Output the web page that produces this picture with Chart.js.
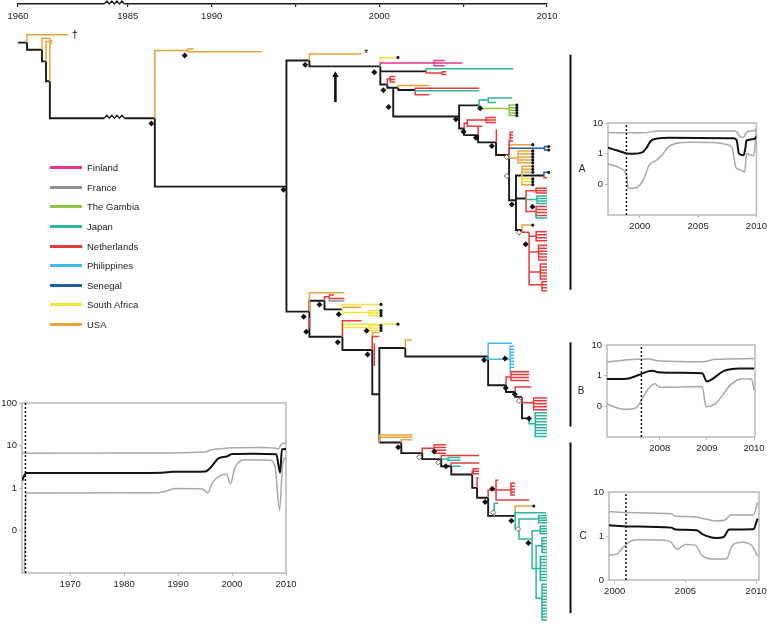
<!DOCTYPE html>
<html>
<head>
<meta charset="utf-8">
<script src="https://cdn.jsdelivr.net/npm/chart.js@4.4.1/dist/chart.umd.min.js"></script>
<style>
  body { margin: 0; background: #fff; }
  #wrap { position: relative; width: 767px; height: 628px; overflow: hidden; font-family: "Liberation Sans", Arial, sans-serif; }
  canvas { position: absolute; }
  #legend { position: absolute; left: 50px; top: 158px; margin: 0; padding: 0; list-style: none; font-size: 9.5px; color: #222; }
  #legend li { height: 19.6px; display: flex; align-items: center; }
  #legend .sw { display: inline-block; width: 32px; height: 3px; margin-right: 5px; }
</style>
</head>
<body>
<div id="wrap">
  <canvas id="tree" width="767" height="628" style="left:0;top:0"></canvas>
  <canvas id="axisTop" width="767" height="24" style="left:0;top:0"></canvas>
  <canvas id="skyAll" width="300" height="200" style="left:0;top:395px"></canvas>
  <canvas id="skyA" width="195" height="120" style="left:575px;top:115px"></canvas>
  <canvas id="skyB" width="195" height="120" style="left:575px;top:337px"></canvas>
  <canvas id="skyC" width="197" height="118" style="left:575px;top:484px"></canvas>
  <ul id="legend"></ul>
</div>
<script>
// Figure: dated tree of isolates + skyline plots
const FONT = '"Liberation Sans", Arial, sans-serif';

const countries = ['Finland', 'France', 'The Gambia', 'Japan', 'Netherlands', 'Philippines', 'Senegal', 'South Africa', 'USA'];
const countryCodes = ['FI', 'FR', 'GM', 'JP', 'NL', 'PH', 'SN', 'ZA', 'US'];
const countryColors = ['#e4348b', '#8f8f8f', '#8cc540', '#2db59c', '#e63b3c', '#45bae8', '#1e5ea8', '#f0e43a', '#e9a23b'];
const internalColor = '#1a1a1a';

// top time axis (broken between the 1960s and 1985)
const topAxisYears = [1960, 1985, 1990, 1995, 2000, 2005, 2010];
const topAxisLabels = ['1960', '1985', '1990', '', '2000', '', '2010'];
const axisGap = 18.45;              // years cut out by the axis break
const breakSpan = [1983.6, 1984.8]; // where the zigzag sits (real years after the gap)
const toAxis = yr => (yr < 1975 ? yr : yr - axisGap);

// tree branches: [parent year, parent pos, child year, child pos, country, tip dot]
const trunkBranches = [
  [1960.0, 14.7, 1960.54, 14.7, 'k'],
  [1960.54, 14.7, 1962.98, 6.7, 'US'],
  [1960.54, 14.7, 1961.43, 22, 'k'],
  [1961.43, 22, 1961.9, 10.3, 'US'],
  [1961.9, 10.3, 1962.05, 12.5, 'US'],
  [1961.43, 22, 1961.67, 33.7, 'k'],
  [1961.67, 33.7, 1962.0, 13.5, 'US'],
  [1961.67, 33.7, 1961.9, 53.7, 'k'],
  [1961.9, 53.7, 1962.05, 15.3, 'US'],
  [1961.9, 53.7, 1986.61, 91, 'k'],
  [1986.61, 91, 1988.57, 22.7, 'US'],
  [1988.57, 22.7, 1988.93, 21.3, 'US'],
  [1988.57, 22.7, 1992.98, 24, 'US'],
  [1986.61, 91, 1994.46, 160, 'k'],
  [1994.46, 160, 1995.83, 32.7, 'k'],
  [1994.46, 160, 1995.83, 286, 'k']
];

const upperCladeBranches = [
  [1995.83, 32.7, 1998.93, 26.3, 'US'],
  [1995.83, 32.7, 2000.06, 38.7, 'k'],
  [2000.06, 38.7, 2001.01, 29.7, 'ZA', 1],
  [2000.06, 38.7, 2003.27, 35.3, 'FI'],
  [2003.27, 35.3, 2004.94, 35.3, 'FI'],
  [2000.06, 38.7, 2002.8, 43.7, 'k'],
  [2002.8, 43.7, 2007.98, 41, 'JP'],
  [2002.8, 43.7, 2003.75, 45.3, 'NL'],
  [2000.06, 38.7, 2000.48, 57, 'k'],
  [2000.48, 57, 2000.65, 51.5, 'NL'],
  [2000.48, 57, 2000.83, 60.3, 'k'],
  [2000.83, 60.3, 2001.13, 60.3, 'k'],
  [2001.13, 60.3, 2002.98, 58, 'US'],
  [2001.13, 60.3, 2002.14, 62.5, 'k'],
  [2002.14, 62.5, 2005.95, 60.7, 'NL'],
  [2002.14, 62.5, 2005.95, 63.3, 'JP'],
  [2002.14, 62.5, 2002.98, 67.3, 'NL'],
  [2000.83, 60.3, 2004.76, 89.3, 'k'],
  [2004.76, 89.3, 2005.95, 78, 'k'],
  [2005.95, 78, 2006.5, 72.7, 'JP'],
  [2006.5, 72.7, 2007.92, 70.7, 'JP'],
  [2006.5, 72.7, 2006.96, 75, 'JP'],
  [2005.95, 78, 2007.74, 81.3, 'GM'],
  [2004.76, 89.3, 2005.06, 101.3, 'k'],
  [2005.06, 101.3, 2005.24, 96, 'NL'],
  [2005.24, 96, 2006.37, 92.7, 'NL'],
  [2005.24, 96, 2006.13, 99, 'NL'],
  [2005.06, 101.3, 2005.89, 108, 'k'],
  [2005.89, 108, 2005.95, 100.5, 'NL'],
  [2005.89, 108, 2006.96, 115.3, 'k'],
  [2006.96, 115.3, 2007.0, 102, 'NL'],
  [2006.96, 115.3, 2007.74, 128, 'k'],
  [2007.74, 128, 2007.8, 114, 'NL'],
  [2007.74, 128, 2009.05, 117.7, 'US', 1],
  [2007.74, 128, 2009.85, 121.3, 'SN'],
  [2007.74, 128, 2008.27, 131, 'US'],
  [2007.74, 128, 2008.15, 173.7, 'k'],
  [2008.15, 173.7, 2008.51, 148.7, 'k'],
  [2008.51, 148.7, 2009.82, 148.7, 'k'],
  [2009.82, 148.7, 2010.0, 145.5, 'SN', 1],
  [2009.82, 148.7, 2010.0, 151, 'NL'],
  [2008.15, 173.7, 2008.75, 172, 'k'],
  [2008.75, 172, 2009.35, 164, 'NL'],
  [2008.75, 172, 2009.4, 173, 'JP'],
  [2008.75, 172, 2009.35, 185, 'NL'],
  [2009.35, 185, 2010.0, 191.5, 'JP'],
  [2008.15, 173.7, 2008.51, 203.7, 'k'],
  [2008.51, 203.7, 2009.05, 198.7, 'US', 1],
  [2008.51, 203.7, 2008.93, 206, 'NL'],
  [2008.93, 206, 2009.35, 210, 'NL'],
  [2008.93, 206, 2009.5, 226, 'NL'],
  [2008.93, 206, 2009.6, 246, 'NL'],
  [2008.93, 206, 2009.7, 259, 'NL']
];

const lowerCladeBranches = [
  [1995.83, 286, 1997.92, 267, 'US'],
  [1995.83, 286, 1996.73, 275, 'k'],
  [1996.73, 275, 1997.02, 271, 'NL'],
  [1997.02, 271, 1997.3, 269.3, 'NL'],
  [1997.02, 271, 1997.92, 272.7, 'NL'],
  [1997.02, 271, 1997.92, 275.3, 'FR'],
  [1996.73, 275, 1997.8, 283.7, 'k'],
  [1997.8, 283.7, 2000.0, 278.7, 'ZA', 1],
  [1997.8, 283.7, 1998.93, 281.5, 'US'],
  [1997.8, 283.7, 1999.4, 287, 'ZA'],
  [1995.83, 292, 1995.87, 302, 'NL'],
  [1995.83, 286, 1997.8, 311.3, 'k'],
  [1997.8, 311.3, 1998.93, 295.3, 'NL'],
  [1997.8, 311.3, 2001.01, 298.7, 'ZA', 1],
  [1997.8, 311.3, 1999.4, 302, 'ZA'],
  [1997.8, 311.3, 1999.58, 324.7, 'k'],
  [1999.58, 324.7, 2000.0, 307, 'US'],
  [1999.58, 324.7, 2000.0, 311, 'NL'],
  [1999.7, 318, 1999.76, 340, 'NL'],
  [1999.58, 324.7, 2000.0, 369.3, 'k'],
  [2000.0, 369.3, 2001.55, 322.7, 'k'],
  [2001.55, 322.7, 2001.96, 314.7, 'US'],
  [2001.55, 322.7, 2006.49, 331.3, 'k'],
  [2006.49, 331.3, 2007.92, 318, 'PH'],
  [2006.49, 331.3, 2007.8, 334, 'PH'],
  [2007.8, 334, 2008.93, 346.3, 'PH'],
  [2006.49, 331.3, 2007.56, 360.3, 'k'],
  [2007.56, 360.3, 2007.85, 352, 'NL'],
  [2007.56, 360.3, 2008.1, 367, 'k'],
  [2008.1, 367, 2009.05, 362, 'NL'],
  [2008.1, 367, 2008.51, 372, 'k'],
  [2008.51, 372, 2009.2, 378, 'NL'],
  [2008.51, 372, 2008.93, 393.7, 'k'],
  [2008.93, 393.7, 2009.3, 399, 'JP'],
  [2000.0, 369.3, 2000.0, 418, 'k'],
  [2000.0, 418, 2001.96, 410.3, 'US'],
  [2000.0, 418, 2001.96, 412.7, 'US'],
  [2000.0, 418, 2001.31, 418, 'k'],
  [2001.31, 418, 2001.96, 415.3, 'US'],
  [2001.31, 418, 2002.56, 428.7, 'k'],
  [2002.56, 428.7, 2003.27, 423.7, 'NL'],
  [2002.56, 428.7, 2003.69, 434.7, 'k'],
  [2003.69, 434.7, 2005.95, 431, 'NL'],
  [2003.69, 434.7, 2004.1, 434.5, 'JP'],
  [2003.69, 434.7, 2004.29, 442, 'k'],
  [2004.29, 442, 2005.95, 438.7, 'NL'],
  [2004.29, 442, 2004.85, 442, 'JP'],
  [2004.29, 442, 2005.54, 450.3, 'k'],
  [2005.54, 450.3, 2005.6, 447, 'NL'],
  [2005.54, 450.3, 2005.83, 463.7, 'k'],
  [2005.83, 463.7, 2005.9, 453.5, 'NL'],
  [2005.83, 463.7, 2006.49, 473.7, 'k'],
  [2006.49, 473.7, 2006.96, 466, 'NL'],
  [2006.96, 466, 2007.1, 456, 'NL'],
  [2006.96, 466, 2007.85, 466, 'NL'],
  [2006.96, 466, 2008.93, 476, 'NL'],
  [2006.49, 473.7, 2006.85, 492, 'k'],
  [2006.85, 492, 2007.1, 479.3, 'JP'],
  [2006.85, 492, 2008.1, 492, 'k'],
  [2008.1, 492, 2009.11, 482, 'US', 1],
  [2008.1, 492, 2009.94, 488.7, 'JP'],
  [2008.1, 492, 2008.33, 505, 'JP'],
  [2008.33, 505, 2009.5, 495, 'JP'],
  [2008.33, 505, 2009.11, 515.3, 'JP'],
  [2009.11, 515.3, 2009.6, 507, 'JP'],
  [2009.11, 515.3, 2009.35, 545, 'JP'],
  [2009.35, 545, 2009.7, 522, 'JP'],
  [2009.35, 545, 2009.6, 545, 'JP'],
  [2009.35, 545, 2009.7, 575, 'JP']
];

// tip fans: [node year, node pos, tip year, country, tip positions, tip dots]
const tipFans = [
  [2003.27, 35.3, 2003.9, 'FI', [32.7, 38]],
  [2003.75, 45.3, 2003.99, 'NL', [44, 47]],
  [2000.65, 51.5, 2000.95, 'NL', [49, 52, 54.5]],
  [2007.74, 81.3, 2008.1, 'GM', [77.7, 80.3, 83, 85.7, 88.3], 1],
  [2006.37, 92.7, 2006.96, 'NL', [90.3, 92.7, 95.3]],
  [2007.8, 114, 2007.98, 'NL', [105, 108, 111, 114]],
  [2009.85, 121.3, 2010.0, 'SN', [119.5, 123], 1],
  [2008.27, 131, 2009.05, 'US', [124, 127, 130, 133, 136], 1],
  [2008.51, 148.7, 2009.05, 'US', [139.5, 142.5, 145.5], 1],
  [2008.51, 148.7, 2009.05, 'ZA', [152, 155], 1],
  [2008.51, 148.7, 2009.05, 'US', [158], 1],
  [2009.35, 164, 2010.0, 'NL', [161.5, 164, 166.5]],
  [2009.4, 173, 2010.0, 'JP', [169.5, 172, 174.5, 177]],
  [2009.35, 185, 2010.0, 'NL', [180, 183, 186, 189]],
  [2009.35, 210, 2010.0, 'NL', [205.5, 208.5, 211.5, 214.5]],
  [2009.5, 226, 2010.0, 'NL', [219, 222, 225, 228, 231, 234]],
  [2009.6, 246, 2010.0, 'NL', [238, 241, 244, 247, 250, 253]],
  [2009.7, 259, 2010.0, 'NL', [256, 259, 262, 265]],
  [1999.4, 287, 2000.0, 'ZA', [285, 287.5, 290], 1],
  [1999.4, 302, 2000.0, 'ZA', [300, 302.5, 305], 1],
  [2007.8, 334, 2008.04, 'PH', [321, 324, 327, 330, 333, 336, 339, 342]],
  [2007.85, 352, 2008.93, 'NL', [346.7, 349.5, 352.5, 355.5]],
  [2009.2, 378, 2010.0, 'NL', [373, 376, 379, 382, 385]],
  [2009.3, 399, 2010.0, 'JP', [388, 391, 394, 397, 400, 403, 406, 409, 412]],
  [2003.27, 423.7, 2003.99, 'NL', [420.3, 423, 425.7, 428.7]],
  [2004.1, 434.5, 2004.85, 'JP', [433, 436]],
  [2005.6, 447, 2005.95, 'NL', [444.5, 447, 449.5]],
  [2007.85, 466, 2008.1, 'NL', [459, 462, 465, 468, 471]],
  [2009.5, 495, 2010.0, 'JP', [491.5, 494, 496.5, 499]],
  [2009.6, 507, 2010.0, 'JP', [502.5, 505, 507.5, 510]],
  [2009.7, 522, 2010.0, 'JP', [514, 517, 520, 523, 526, 529]],
  [2009.6, 545, 2010.0, 'JP', [533, 536, 539, 542, 545, 548, 551, 554, 557]],
  [2009.7, 575, 2010.0, 'JP', [561, 564, 567, 570, 573, 576, 579, 582, 585, 588, 591, 594, 597]]
];

// node support (year, pos)
const fullSupport = [
  [1986.41, 96.3], [1988.39, 27.7], [1994.29, 163], [1995.58, 37], [1999.7, 44.7], [2000.24, 62.7],
  [2000.55, 79.7], [2004.57, 92], [2006.01, 81], [2005.02, 104.7], [2005.76, 110.7], [2006.71, 119],
  [2007.9, 178], [2009.13, 180.3], [2008.73, 218], [1995.49, 291.3], [1996.43, 278.7], [1997.58, 288.7],
  [1995.64, 306.3], [1997.52, 317], [1999.24, 305.3], [1999.3, 329.3], [2006.25, 334.7], [2007.5, 333.3],
  [2007.54, 363], [2008.08, 369.3], [2008.93, 393.7], [2001.13, 422.7], [2003.27, 427], [2003.97, 442],
  [2006.31, 478], [2006.74, 464.7], [2007.87, 497], [2008.89, 519.3]
];
const partialSupport = [
  [2007.6, 130.3], [2007.6, 149.3], [2008.33, 206.3], [2008.33, 376], [2002.38, 432.7],
  [2003.51, 438], [2006.79, 488.7], [2008.27, 505.3]
];
const tipMarks = [['\u2020', 1963.39, 7], ['*', 1999.21, 26]];
const arrowYear = 1997.38, arrowFrom = 74.7, arrowTo = 47.5;
const cladeSpans = [[27, 264], [317, 402], [418, 590]];

// skyline plots: [year, value]
const skyAllMedian = [[1961.1, 1.5], [1961.7, 2.2], [1962, 2.25], [1975, 2.25], [1987, 2.3], [1989, 2.4], [1995, 2.45], [1996, 3.0], [1997.5, 5.0], [1999, 5.5], [2000, 6.3], [2004, 6.4], [2008.2, 6.2], [2008.9, 2.3], [2009.25, 8.2], [2010, 8.3]];
const skyAllUpper = [[1961.1, 6.6], [1988, 6.7], [1995, 7.0], [1996, 7.8], [1997.5, 8.3], [2000, 8.8], [2005, 9.0], [2008.2, 8.6], [2008.6, 8.3], [2009.2, 11], [2010, 11.3]];
const skyAllLower = [[1961.5, 0.011], [1961.8, 0.76], [1986, 0.77], [1988.5, 0.9], [1989.3, 0.97], [1994.5, 0.95], [1995.5, 0.77], [1996.3, 1.3], [1997.5, 1.85], [1999, 2.1], [1999.7, 1.25], [2000.5, 2.9], [2001.5, 4.3], [2002.5, 4.6], [2007, 4.5], [2008, 3.0], [2008.8, 0.3], [2009.4, 3.8], [2010, 5.3]];

const skyAMedian = [[1997.27, 1.55], [1998, 1.3], [1998.9, 1.02], [1999.5, 1.0], [2000.2, 1.1], [2000.6, 1.6], [2000.9, 2.5], [2001.5, 3.1], [2002.5, 3.3], [2008.0, 3.2], [2008.3, 2.8], [2008.5, 1.0], [2008.9, 0.88], [2009.05, 1.5], [2009.15, 2.7], [2009.8, 3.0], [2010, 3.6]];
const skyAUpper = [[1997.27, 4.8], [2000.3, 4.8], [2001.5, 5.5], [2008.2, 5.5], [2008.6, 3.6], [2008.9, 3.4], [2009.2, 5.3], [2009.8, 5.6], [2010, 6.8]];
const skyALower = [[1997.27, 0.47], [1998.3, 0.34], [1998.85, 0.2], [1999.0, 0.075], [1999.7, 0.078], [2000.3, 0.14], [2000.8, 0.42], [2001.4, 0.6], [2001.9, 0.9], [2002.4, 1.6], [2003, 2.1], [2004.4, 2.35], [2006.2, 2.3], [2007.4, 2.0], [2007.9, 1.6], [2008.25, 0.35], [2008.6, 0.3], [2009.0, 0.25], [2009.15, 1.0], [2009.75, 0.85], [2010, 6.5]];

const skyBMedian = [[2006.88, 0.78], [2007.3, 0.8], [2007.55, 1.05], [2007.75, 1.38], [2007.85, 1.45], [2007.95, 1.3], [2008.5, 1.25], [2008.9, 1.2], [2009.0, 0.65], [2009.1, 0.75], [2009.35, 1.4], [2009.7, 1.7], [2010, 1.7]];
const skyBUpper = [[2006.88, 2.8], [2007.5, 3.4], [2007.75, 3.5], [2008.0, 3.0], [2008.9, 2.85], [2009.2, 3.4], [2010, 3.6]];
const skyBLower = [[2006.88, 0.12], [2007.0, 0.1], [2007.25, 0.08], [2007.5, 0.09], [2007.62, 0.17], [2007.75, 0.36], [2007.9, 0.55], [2008.0, 0.42], [2008.9, 0.44], [2008.98, 0.097], [2009.2, 0.13], [2009.5, 0.5], [2009.75, 0.8], [2009.95, 0.75], [2010, 0.34]];

const skyCMedian = [[1999.6, 1.75], [2001, 1.65], [2004, 1.55], [2004.3, 1.4], [2005.8, 1.35], [2006.2, 1.1], [2007.2, 0.9], [2007.7, 0.95], [2008.1, 1.4], [2009.8, 1.42], [2010.1, 2.5]];
const skyCUpper = [[1999.6, 3.6], [2001, 3.4], [2004, 3.2], [2004.3, 2.8], [2005.5, 2.75], [2006.5, 2.4], [2007.2, 2.2], [2007.8, 2.3], [2008.2, 3.0], [2009.8, 3.0], [2010.1, 5.8]];
const skyCLower = [[1999.6, 0.36], [2000.2, 0.4], [2000.8, 0.64], [2001.5, 0.82], [2003.5, 0.8], [2004, 0.72], [2004.4, 0.5], [2005, 0.64], [2005.7, 0.62], [2006.2, 0.35], [2007, 0.3], [2007.9, 0.3], [2008.3, 0.6], [2009, 0.72], [2009.7, 0.6], [2010.1, 0.35]];

// ---------- legend ----------
const legendEl = document.getElementById('legend');
countries.forEach((name, i) => {
  const li = document.createElement('li');
  li.innerHTML = `<span class="sw" style="background:${countryColors[i]}"></span>${name}`;
  legendEl.appendChild(li);
});

// ---------- tree ----------
const colorOf = code => (code === 'k' ? internalColor : countryColors[countryCodes.indexOf(code)]);
const segs = {};
const dotPts = [];
function addBranch([px, pp, cx, cp, code, dot]) {
  if (!segs[code]) segs[code] = [];
  segs[code].push({ x: toAxis(px), y: pp }, { x: toAxis(px), y: cp }, { x: toAxis(cx), y: cp }, { x: toAxis(cx), y: null });
  if (dot) dotPts.push({ x: toAxis(cx) + 0.1, y: cp });
}
[...trunkBranches, ...upperCladeBranches, ...lowerCladeBranches].forEach(addBranch);
tipFans.forEach(([nx, np, tx, code, tips, dot]) => tips.forEach(t => addBranch([nx, np, tx, t, code, dot])));

const treeDatasets = [
  { type: 'scatter', data: fullSupport.map(([x, y]) => ({ x: toAxis(x), y })), pointStyle: 'rectRot', pointRadius: 3, backgroundColor: '#111', borderWidth: 0, clip: false },
  { type: 'scatter', data: partialSupport.map(([x, y]) => ({ x: toAxis(x), y })), pointStyle: 'rectRot', pointRadius: 2.6, backgroundColor: '#fff', borderColor: '#666', borderWidth: 1, clip: false },
  { type: 'scatter', data: dotPts, pointStyle: 'circle', pointRadius: 1.6, backgroundColor: '#111', borderWidth: 0, clip: false },
  {
    data: [{ x: toAxis(arrowYear), y: arrowFrom }, { x: toAxis(arrowYear), y: arrowTo }],
    borderColor: '#111', borderWidth: 2.6, backgroundColor: '#111', pointStyle: 'triangle',
    pointRadius: ctx => (ctx.dataIndex === 1 ? 3.8 : 0), pointBorderWidth: 0, borderCapStyle: 'butt', clip: false
  }
];
countryCodes.concat(['k']).forEach(code => {
  if (!segs[code]) return;
  treeDatasets.push({
    data: segs[code], borderColor: colorOf(code), borderWidth: code === 'k' ? 1.9 : 1.5,
    pointRadius: 0, tension: 0, spanGaps: false, fill: false, clip: false,
    borderJoinStyle: 'miter', borderCapStyle: 'butt'
  });
});

function zigzag(ctx, x0, x1, y, amp) {
  ctx.save();
  ctx.fillStyle = '#fff';
  ctx.fillRect(x0, y - amp - 1, x1 - x0, amp + 3);
  ctx.beginPath();
  ctx.moveTo(x0, y);
  const n = 4, step = (x1 - x0) / (2 * n);
  for (let i = 1; i <= 2 * n; i++) ctx.lineTo(x0 + i * step, i % 2 ? y - amp : y);
  ctx.strokeStyle = internalColor;
  ctx.lineWidth = 1.2;
  ctx.stroke();
  ctx.restore();
}

const treeDecor = {
  id: 'treeDecor',
  afterDatasetsDraw(chart) {
    const { ctx, chartArea } = chart;
    const xs = chart.scales.x, ys = chart.scales.y;
    // break on the long branch that spans the gap
    zigzag(ctx, xs.getPixelForValue(toAxis(breakSpan[0])), xs.getPixelForValue(toAxis(breakSpan[1])), ys.getPixelForValue(91), 3);
    ctx.save();
    ctx.fillStyle = '#111';
    ctx.font = '11px ' + FONT;
    ctx.textAlign = 'center';
    ctx.textBaseline = 'middle';
    tipMarks.forEach(([t, x, y]) => ctx.fillText(t, xs.getPixelForValue(toAxis(x)), ys.getPixelForValue(y)));
    // clade bars
    ctx.strokeStyle = '#111';
    ctx.lineWidth = 2;
    const bx = chartArea.right + 23.5;
    cladeSpans.forEach(([a, b]) => {
      ctx.beginPath();
      ctx.moveTo(bx, ys.getPixelForValue(a));
      ctx.lineTo(bx, ys.getPixelForValue(b));
      ctx.stroke();
    });
    ctx.restore();
  }
};

new Chart(document.getElementById('tree'), {
  type: 'line',
  data: { datasets: treeDatasets },
  options: {
    responsive: false, animation: false, devicePixelRatio: 1, events: [],
    layout: { padding: { left: 18, right: 220, top: 28, bottom: 0 } },
    scales: {
      x: { type: 'linear', display: false, min: 1960, max: toAxis(2010) },
      y: { type: 'linear', display: false, min: 0, max: 600, reverse: true }
    },
    plugins: { legend: { display: false }, tooltip: { enabled: false } }
  },
  plugins: [treeDecor]
});

// ---------- top axis ----------
const axisBreak = {
  id: 'axisBreak',
  afterDraw(chart) {
    const xs = chart.scales.x;
    zigzag(chart.ctx, xs.getPixelForValue(toAxis(breakSpan[0])), xs.getPixelForValue(toAxis(breakSpan[1])), chart.chartArea.bottom, 3);
  }
};

new Chart(document.getElementById('axisTop'), {
  type: 'line',
  data: { datasets: [{ data: [] }] },
  options: {
    responsive: false, animation: false, devicePixelRatio: 1, events: [],
    layout: { padding: { left: 18, right: 220, top: 0, bottom: 0 } },
    scales: {
      x: {
        type: 'linear', position: 'bottom', min: 1960, max: toAxis(2010),
        afterBuildTicks: s => { s.ticks = topAxisYears.map(y => ({ value: toAxis(y) })); },
        afterFit: s => { s.height = 20; },
        ticks: { autoSkip: false, maxRotation: 0, padding: 4, color: '#222', font: { size: 9.5, family: FONT }, callback: (v, i) => topAxisLabels[i] },
        grid: { drawOnChartArea: false, drawTicks: true, tickLength: 3, color: internalColor, lineWidth: 1.2 },
        border: { display: true, color: internalColor, width: 1.5 }
      },
      y: { display: false, min: 0, max: 1 }
    },
    plugins: { legend: { display: false }, tooltip: { enabled: false } }
  },
  plugins: [axisBreak]
});

// ---------- skyline plots ----------
const skyFrame = {
  id: 'skyFrame',
  beforeDatasetsDraw(chart, args, opts) {
    const { ctx, chartArea: a } = chart;
    ctx.save();
    ctx.strokeStyle = '#b9b9b9';
    ctx.lineWidth = 1.5;
    ctx.strokeRect(a.left, a.top, a.right - a.left, a.bottom - a.top);
    if (opts.label) {
      ctx.fillStyle = '#222';
      ctx.font = '10px ' + FONT;
      ctx.textAlign = 'center';
      ctx.textBaseline = 'middle';
      ctx.fillText(opts.label, a.left - 26, (a.top + a.bottom) / 2);
    }
    ctx.restore();
  }
};

function skyline(id, s) {
  const curve = (pts, color, width) => ({
    data: pts.map(([x, y]) => ({ x, y })), borderColor: color, borderWidth: width,
    pointRadius: 0, tension: 0.4, cubicInterpolationMode: 'monotone', fill: false
  });
  const datasets = [
    { data: [{ x: s.tmrca, y: s.yMin }, { x: s.tmrca, y: s.yMax }], borderColor: '#111', borderWidth: 1.5, borderDash: [2, 2], pointRadius: 0, tension: 0, clip: false },
    curve(s.median, '#111', 2),
    curve(s.upper, '#a8a8a8', 1.5),
    curve(s.lower, '#a8a8a8', 1.5)
  ];
  const tickFont = { size: 9.5, family: FONT };
  new Chart(document.getElementById(id), {
    type: 'line',
    data: { datasets },
    options: {
      responsive: false, animation: false, devicePixelRatio: 1, events: [],
      layout: { padding: { left: 0, right: s.padRight, top: s.padTop, bottom: 0 } },
      scales: {
        x: {
          type: 'linear', min: s.xMin, max: s.xMax,
          afterBuildTicks: sc => { sc.ticks = s.xTicks.map(v => ({ value: v })); },
          afterFit: sc => { sc.height = s.xHeight; },
          ticks: { autoSkip: false, maxRotation: 0, padding: 3, color: '#222', font: tickFont, callback: v => String(v) },
          grid: { drawOnChartArea: false, drawTicks: true, tickLength: 3, color: '#b9b9b9' },
          border: { display: false }
        },
        y: {
          type: 'logarithmic', min: s.yMin, max: s.yMax,
          afterBuildTicks: sc => { sc.ticks = s.yTicks.map(v => ({ value: v })); },
          afterFit: sc => { sc.width = s.yWidth; },
          ticks: { autoSkip: false, padding: 2, color: '#222', font: tickFont, callback: (v, i) => s.yLabels[i] },
          grid: { drawOnChartArea: false, drawTicks: true, tickLength: 3, color: '#b9b9b9' },
          border: { display: false }
        }
      },
      plugins: { legend: { display: false }, tooltip: { enabled: false }, skyFrame: { label: s.label } }
    },
    plugins: [skyFrame]
  });
}

skyline('skyAll', {
  xMin: 1961.06, xMax: 2010, yMin: 0.01, yMax: 100, tmrca: 1961.7,
  xTicks: [1970, 1980, 1990, 2000, 2010], yTicks: [0.1, 1, 10, 100], yLabels: ['0', '1', '10', '100'],
  median: skyAllMedian, upper: skyAllUpper, lower: skyAllLower,
  padTop: 8, padRight: 14, yWidth: 22, xHeight: 22
});
skyline('skyA', {
  label: 'A', xMin: 1997.27, xMax: 2010, yMin: 0.01, yMax: 10, tmrca: 1998.85,
  xTicks: [2000, 2005, 2010], yTicks: [0.1, 1, 10], yLabels: ['0', '1', '10'],
  median: skyAMedian, upper: skyAUpper, lower: skyALower,
  padTop: 8, padRight: 13, yWidth: 33, xHeight: 20
});
skyline('skyB', {
  label: 'B', xMin: 2006.88, xMax: 2010.02, yMin: 0.01, yMax: 10, tmrca: 2007.61,
  xTicks: [2008, 2009, 2010], yTicks: [0.1, 1, 10], yLabels: ['0', '1', '10'],
  median: skyBMedian, upper: skyBUpper, lower: skyBLower,
  padTop: 8, padRight: 15, yWidth: 32, xHeight: 20
});
skyline('skyC', {
  label: 'C', xMin: 1999.6, xMax: 2010.2, yMin: 0.1, yMax: 10, tmrca: 2000.8,
  xTicks: [2000, 2005, 2010], yTicks: [0.1, 1, 10], yLabels: ['0', '1', '10'],
  median: skyCMedian, upper: skyCUpper, lower: skyCLower,
  padTop: 8, padRight: 13, yWidth: 34, xHeight: 22
});
</script>
</body>
</html>
